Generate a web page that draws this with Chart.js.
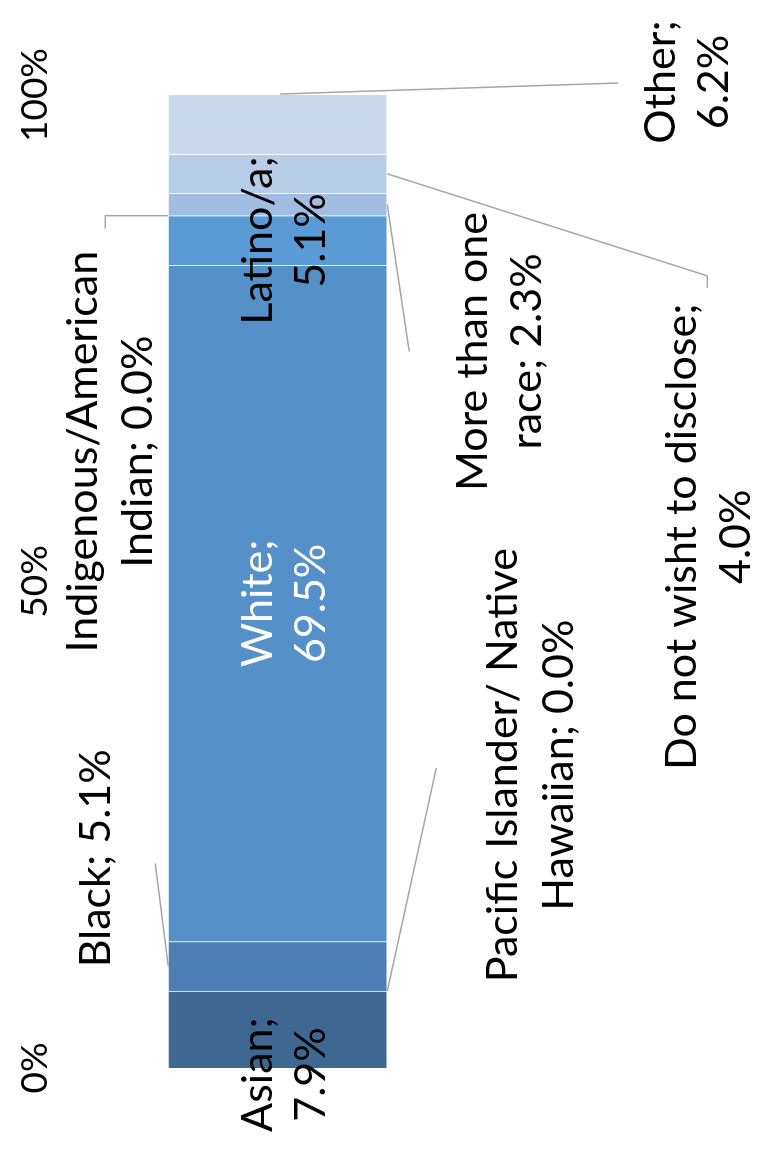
<!DOCTYPE html>
<html>
<head>
<meta charset="utf-8">
<script src="https://cdn.jsdelivr.net/npm/chart.js@4/dist/chart.umd.min.js"></script>
<style>
  html, body { margin: 0; padding: 0; background: #ffffff; overflow: hidden; }
  #stage {
    position: absolute; left: 0; top: 0;
    width: 1152px; height: 757px;
    transform-origin: 0 0;
    transform: translateY(1152px) rotate(-90deg);
  }
</style>
</head>
<body>
<div id="stage"><canvas id="chart" width="1152" height="757"></canvas></div>
<script>
// Respondent race / ethnicity shares (percent of total)
const categories = [
  'Asian',
  'Pacific Islander/ Native Hawaiian',
  'Black',
  'White',
  'Latino/a',
  'Indigenous/American Indian',
  'More than one race',
  'Do not wisht to disclose',
  'Other'
];
const shares = [7.9, 0.0, 5.1, 69.5, 5.1, 0.0, 2.3, 4.0, 6.2];
const axisTicks = [0, 50, 100];

// Segment fills, darkest at the base of the bar
const palette = ['#3e6891', '#4674a3', '#4d7fb6', '#5590c8', '#5b9bd5',
                 '#7eacdc', '#a1bde2', '#b8cde8', '#cbd9ed'];

// Callout placement for each segment label (pixels, relative to the segment)
//  ax: horizontal anchor ('mid' of segment or 'end' of segment)
//  tx: text centre offset from anchor; rows: baselines relative to bar centre
//  split: words on first row; leader: polyline points [dx, edge, dy]
const callouts = [
  { ax: 'mid', tx: -45,  rows: [-5.5, 47.5], split: 1 },
  { ax: 'mid', tx: 226,  rows: [239.5, 295.5], split: 3,
    leader: [[0, 'bottom', 0], [223, 'bottom', 49]] },
  { ax: 'mid', tx: 108,  rows: [-167.5], split: 99,
    leader: [[0, 'top', 0], [103, 'top', -13]] },
  { ax: 'mid', tx: 0,    rows: [-5.5, 47.5], split: 1, color: '#ffffff' },
  { ax: 'mid', tx: 0,    rows: [-5.5, 47.5], split: 1 },
  { ax: 'mid', tx: -236, rows: [-180.5, -125.5], split: 1,
    leader: [[0, 'top', 0], [0, 'top', -63], [-13, 'top', -63]] },
  { ax: 'mid', tx: -147, rows: [209.5, 263.5], split: 3,
    leader: [[0, 'bottom', 0], [-147, 'bottom', 22]] },
  { ax: 'mid', tx: -363, rows: [418.5, 472.5], split: 5,
    leader: [[0, 'bottom', 0], [-102, 'bottom', 320], [-114, 'bottom', 320]] },
  { ax: 'end', tx: 12,   rows: [397.5, 450.5], split: 1,
    leader: [[0, 'mid', 2.5], [11, 'mid', 340.5]] }
];

const LABEL_FONT = '43px Lato';

const calloutPlugin = {
  id: 'callouts',
  afterDatasetsDraw(chart) {
    const ctx = chart.ctx;
    chart.data.datasets.forEach((ds, i) => {
      const el = chart.getDatasetMeta(i).data[0];
      const p = el.getProps(['x', 'y', 'base', 'height'], true);
      const c = callouts[i];
      const anchorX = c.ax === 'end' ? p.x : (p.x + p.base) / 2;
      const edges = { top: p.y - p.height / 2, bottom: p.y + p.height / 2, mid: p.y };

      ctx.save();
      if (c.leader) {
        ctx.strokeStyle = '#a6a6a6';
        ctx.lineWidth = 1.5;
        ctx.beginPath();
        c.leader.forEach(([dx, edge, dy], k) => {
          const px = anchorX + dx, py = edges[edge] + dy;
          if (k === 0) ctx.moveTo(px, py); else ctx.lineTo(px, py);
        });
        ctx.stroke();
      }
      const words = (categories[i] + '; ' + shares[i].toFixed(1) + '%').split(' ');
      const lines = [words.slice(0, c.split).join(' '), words.slice(c.split).join(' ')]
        .filter(s => s.length);
      ctx.font = LABEL_FONT;
      ctx.fillStyle = c.color || '#000000';
      ctx.textAlign = 'center';
      ctx.textBaseline = 'alphabetic';
      lines.forEach((line, k) => {
        ctx.fillText(line, anchorX + c.tx, p.y + c.rows[k]);
      });
      ctx.restore();
    });
  }
};

new Chart(document.getElementById('chart'), {
  type: 'bar',
  data: {
    labels: [''],
    datasets: categories.map((name, i) => ({
      label: name,
      data: [shares[i]],
      backgroundColor: palette[i],
      borderColor: 'rgba(255,255,255,0.35)',
      borderWidth: 1,
      barThickness: 219
    }))
  },
  options: {
    indexAxis: 'y',
    responsive: false,
    animation: false,
    devicePixelRatio: 1,
    layout: { padding: { left: 84, right: 95, top: 13, bottom: 259 } },
    plugins: { legend: { display: false }, tooltip: { enabled: false } },
    scales: {
      x: {
        stacked: true,
        position: 'top',
        min: 0,
        max: 100,
        afterBuildTicks: axis => { axis.ticks = axisTicks.map(v => ({ value: v })); },
        grid: { display: false, drawTicks: false },
        border: { display: false },
        ticks: {
          padding: 0,
          color: '#000000',
          font: { family: 'Lato', size: 37 },
          maxRotation: 0,
          callback: v => v + '%'
        }
      },
      y: {
        stacked: true,
        display: false
      }
    }
  },
  plugins: [calloutPlugin]
});
</script>
</body>
</html>
